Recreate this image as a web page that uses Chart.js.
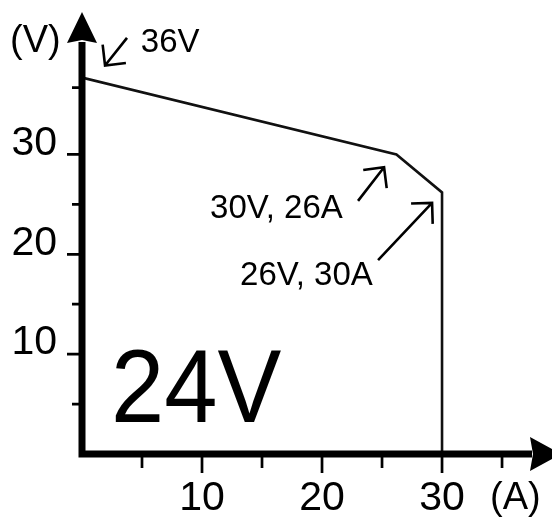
<!DOCTYPE html>
<html>
<head>
<meta charset="utf-8">
<script src="https://cdn.jsdelivr.net/npm/chart.js@4.4.0/dist/chart.umd.min.js"></script>
<style>
  html, body { margin: 0; padding: 0; background: #fff; }
  #wrap { width: 552px; height: 525px; position: relative; }
</style>
</head>
<body>
<div id="wrap"><canvas id="chart"></canvas></div>
<script>
// output curve, current (A) vs voltage (V)
const currentA = [0, 26.2, 30, 30];
const voltageV = [37.7, 30, 26.2, 0];

const xTicks = [5, 10, 15, 20, 25, 30, 35];
const xTickLabels = ['', '10', '', '20', '', '30', ''];
const yTicks = [5, 10, 15, 20, 25, 30, 36.7];
const yTickLabels = ['', '10', '', '20', '', '30', ''];

// annotation texts, placed in data units
const noteTexts = ['36V', '30V, 26A', '26V, 30A', '24V', '(V)', '(A)'];
const noteX = [4.9, 10.67, 13.17, 2.42, -6, 34];
const noteY = [40.3, 23.66, 16.93, 3.17, 40.3, -5.54];

// arrows: tail -> tip, data units
const arrowFrom = [[3.75, 41.68], [23.0, 25.35], [24.67, 19.41]];
const arrowTo = [[1.92, 38.91], [25.17, 28.71], [29.17, 25.15]];

const FONT = '"Liberation Sans", Arial, sans-serif';
const noteSize = [33, 33, 33, 104, 38, 38];
const noteStretch = [1, 1, 1, 0.92, 1, 1];

const decor = {
  id: 'decor',
  afterDraw(chart) {
    const { ctx, chartArea } = chart;
    const xs = chart.scales.x, ys = chart.scales.y;
    const x0 = chartArea.left, y0 = chartArea.bottom;
    ctx.save();
    ctx.fillStyle = '#000';
    ctx.strokeStyle = '#000';

    // axes
    ctx.lineWidth = 7;
    ctx.beginPath();
    ctx.moveTo(x0, y0 + 3.5);
    ctx.lineTo(x0, 42);
    ctx.moveTo(x0 - 3.5, y0);
    ctx.lineTo(chartArea.right + 2, y0);
    ctx.stroke();

    // arrow heads
    ctx.beginPath();
    ctx.moveTo(x0, 12);
    ctx.lineTo(x0 + 15, 43);
    ctx.lineTo(x0, 40);
    ctx.lineTo(x0 - 15, 43);
    ctx.closePath();
    ctx.fill();
    const r = chartArea.right;
    ctx.beginPath();
    ctx.moveTo(r + 31, y0);
    ctx.lineTo(r, y0 - 17);
    ctx.lineTo(r + 3, y0);
    ctx.lineTo(r, y0 + 17);
    ctx.closePath();
    ctx.fill();

    // tick marks
    ctx.lineWidth = 2.7;
    ctx.beginPath();
    xTicks.forEach((v, i) => {
      const px = xs.getPixelForValue(v);
      ctx.moveTo(px, y0);
      ctx.lineTo(px, y0 + (xTickLabels[i] ? 19 : 14));
    });
    yTicks.forEach((v, i) => {
      const py = ys.getPixelForValue(v);
      ctx.moveTo(x0, py);
      ctx.lineTo(x0 - (yTickLabels[i] ? 15 : 10), py);
    });
    ctx.stroke();

    // texts
    ctx.textAlign = 'left';
    ctx.textBaseline = 'alphabetic';
    noteTexts.forEach((t, i) => {
      ctx.save();
      ctx.font = noteSize[i] + 'px ' + FONT;
      ctx.translate(xs.getPixelForValue(noteX[i]), ys.getPixelForValue(noteY[i]));
      ctx.scale(noteStretch[i], 1);
      ctx.fillText(t, 0, 0);
      ctx.restore();
    });

    // arrows with open heads
    ctx.lineWidth = 2.6;
    ctx.lineCap = 'butt';
    arrowFrom.forEach((f, i) => {
      const ax = xs.getPixelForValue(f[0]), ay = ys.getPixelForValue(f[1]);
      const bx = xs.getPixelForValue(arrowTo[i][0]), by = ys.getPixelForValue(arrowTo[i][1]);
      const back = Math.atan2(ay - by, ax - bx);
      const len = 21;
      ctx.beginPath();
      ctx.moveTo(ax, ay);
      ctx.lineTo(bx, by);
      ctx.moveTo(bx + len * Math.cos(back - Math.PI / 4), by + len * Math.sin(back - Math.PI / 4));
      ctx.lineTo(bx, by);
      ctx.lineTo(bx + len * Math.cos(back + Math.PI / 4), by + len * Math.sin(back + Math.PI / 4));
      ctx.stroke();
    });
    ctx.restore();
  }
};

new Chart(document.getElementById('chart'), {
  type: 'line',
  data: {
    datasets: [{
      data: currentA.map((a, i) => ({ x: a, y: voltageV[i] })),
      borderColor: '#111',
      borderWidth: 2.6,
      pointRadius: 0,
      fill: false,
      tension: 0
    }]
  },
  options: {
    responsive: true,
    maintainAspectRatio: false,
    animation: false,
    layout: { padding: { top: 45, right: 22, left: 0, bottom: 0 } },
    plugins: { legend: { display: false }, tooltip: { enabled: false } },
    scales: {
      x: {
        type: 'linear',
        min: 0,
        max: 37.33,
        afterBuildTicks: s => { s.ticks = xTicks.map(v => ({ value: v })); },
        afterFit: s => { s.height = 71; },
        grid: { display: false, drawTicks: false },
        border: { display: false },
        ticks: {
          autoSkip: false,
          maxRotation: 0,
          padding: 20,
          color: '#000',
          font: { family: FONT, size: 41 },
          callback: (v, i) => xTickLabels[i]
        }
      },
      y: {
        type: 'linear',
        min: 0,
        max: 40.5,
        afterBuildTicks: s => { s.ticks = yTicks.map(v => ({ value: v })); },
        afterFit: s => { s.width = 82; },
        grid: { display: false, drawTicks: false },
        border: { display: false },
        ticks: {
          autoSkip: false,
          padding: 25,
          labelOffset: -11,
          color: '#000',
          font: { family: FONT, size: 41 },
          callback: (v, i) => yTickLabels[i]
        }
      }
    }
  },
  plugins: [decor]
});
</script>
</body>
</html>
